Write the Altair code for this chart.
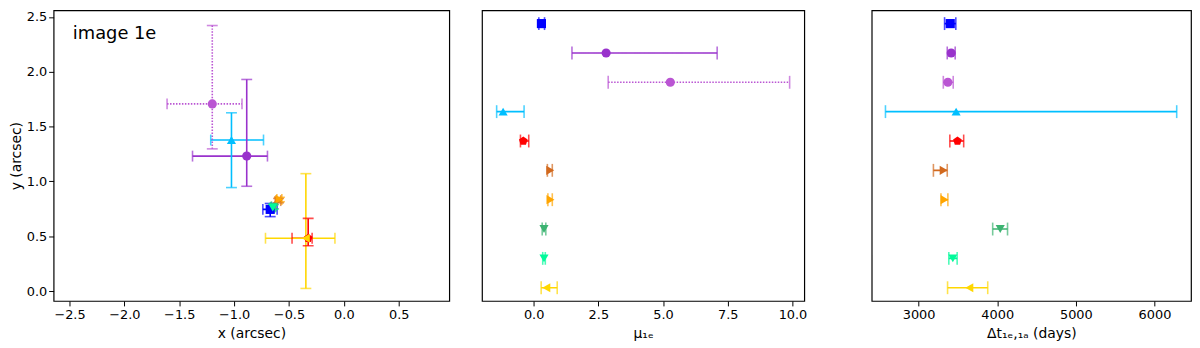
import altair as alt
import pandas as pd

# ---- data ----
names = ["blue", "purple", "orchid", "cyan", "red", "chocolate", "orange", "seagreen", "springgreen", "gold"]
colors = ["#0000ff", "#9932cc", "#ba55d3", "#00bfff", "#ff0000", "#d2691e", "#ffa500", "#3cb371", "#00fa9a", "#ffd700"]
PENT = "M0,-1L0.951,-0.309L0.588,0.809L-0.588,0.809L-0.951,-0.309Z"
shapes = ["square", "circle", "circle", "triangle-up", PENT, "triangle-right", "triangle-right",
          "triangle-down", "triangle-down", "triangle-left"]
dashes = [[1, 0], [1, 0], [1.5, 1.5], [1, 0], [1, 0], [1, 0], [1, 0], [1, 0], [1, 0], [1, 0]]
rows = [0, 1, 2, 3, 4, 5, 6, 7, 8, 9]

# panel 1: image position (arcsec)
pos_x = [-0.671, -0.885, -1.199, -1.024, -0.325, -0.595, -0.587, -0.640, -0.648, -0.346]
pos_x_lo = [-0.738, -1.379, -1.611, -1.213, -0.472, -0.615, -0.610, -0.660, -0.665, -0.714]
pos_x_hi = [-0.608, -0.696, -0.928, -0.732, -0.289, -0.575, -0.565, -0.620, -0.630, -0.081]
pos_y = [0.745, 1.231, 1.707, 1.378, 0.482, 0.825, 0.835, 0.770, 0.763, 0.482]
pos_y_lo = [0.679, 0.956, 1.297, 0.944, 0.413, 0.805, 0.815, 0.750, 0.745, 0.024]
pos_y_hi = [0.799, 1.930, 2.422, 1.626, 0.663, 0.845, 0.855, 0.790, 0.780, 1.071]

# panel 2: magnification mu_1e
mu = [0.30, 2.80, 5.28, -1.18, -0.40, 0.64, 0.65, 0.40, 0.40, 0.49]
mu_lo = [0.20, 1.48, 2.88, -1.43, -0.51, 0.53, 0.55, 0.33, 0.35, 0.29]
mu_hi = [0.42, 7.09, 9.89, -0.37, -0.19, 0.72, 0.72, 0.47, 0.45, 0.91]

# panel 3: time delay (days)
dt = [3402, 3414, 3372, 3477, 3494, 3318, 3330, 4038, 3435, 3645]
dt_lo = [3330, 3364, 3314, 2578, 3397, 3188, 3284, 3942, 3384, 3368]
dt_hi = [3473, 3465, 3440, 6283, 3573, 3364, 3372, 4131, 3490, 3879]

label_text = ["image 1e"]
label_x = [-2.47]
label_y = [2.34]

df = pd.DataFrame({
    "name": names, "row": rows,
    "x": pos_x, "xlo": pos_x_lo, "xhi": pos_x_hi,
    "y": pos_y, "ylo": pos_y_lo, "yhi": pos_y_hi,
    "mu": mu, "mulo": mu_lo, "muhi": mu_hi,
    "dt": dt, "dtlo": dt_lo, "dthi": dt_hi,
})
lab = pd.DataFrame({"t": label_text, "lx": label_x, "ly": label_y})

col = alt.Color("name:N", scale=alt.Scale(domain=names, range=colors), legend=None)
shp = alt.Shape("name:N", scale=alt.Scale(domain=names, range=shapes), legend=None)
dsh = alt.StrokeDash("name:N", scale=alt.Scale(domain=names, range=dashes), legend=None)

LW = 1.6
CAP = 11
MS = 85

# ---------- panel 1 ----------
xs1 = alt.Scale(domain=[-2.645, 0.961], nice=False, zero=False)
ys1 = alt.Scale(domain=[-0.09, 2.56], nice=False, zero=False)
xax1 = alt.Axis(values=[-2.5, -2.0, -1.5, -1.0, -0.5, 0.0, 0.5], format=".1f")
yax1 = alt.Axis(values=[0.0, 0.5, 1.0, 1.5, 2.0, 2.5], format=".1f", titlePadding=3, labelPadding=2)


def X1(f):
    return alt.X(f, scale=xs1, axis=xax1, title="x (arcsec)")


def Y1(f):
    return alt.Y(f, scale=ys1, axis=yax1, title="y (arcsec)")


b1 = alt.Chart(df)
xerr1 = b1.mark_rule(strokeWidth=LW).encode(x=X1("xlo:Q"), x2="xhi:Q", y=Y1("y:Q"), color=col, strokeDash=dsh)
yerr1 = b1.mark_rule(strokeWidth=LW).encode(x=X1("x:Q"), y=Y1("ylo:Q"), y2="yhi:Q", color=col, strokeDash=dsh)
capx1 = b1.transform_fold(["xlo", "xhi"], as_=["k", "v"]).mark_tick(
    orient="vertical", size=CAP, thickness=LW).encode(x=X1("v:Q"), y=Y1("y:Q"), color=col)
capy1 = b1.transform_fold(["ylo", "yhi"], as_=["k", "v"]).mark_tick(
    orient="horizontal", size=CAP, thickness=LW).encode(x=X1("x:Q"), y=Y1("v:Q"), color=col)
pts1 = b1.mark_point(filled=True, size=MS, opacity=1).encode(x=X1("x:Q"), y=Y1("y:Q"), color=col, shape=shp)
txt1 = alt.Chart(lab).mark_text(align="left", baseline="middle", fontSize=18, font="DejaVu Sans",
                                color="black").encode(x=X1("lx:Q"), y=Y1("ly:Q"), text="t:N")
p1 = alt.layer(xerr1, yerr1, capx1, capy1, pts1, txt1).properties(width=399, height=293)

# ---------- shared row scale ----------
rs = alt.Scale(domain=[-0.45, 9.45], nice=False, zero=False, reverse=True)


def RY(f):
    return alt.Y(f, scale=rs, axis=None)


def hpanel(v, lo, hi, xs, xax, title, w):
    def XX(f):
        return alt.X(f, scale=xs, axis=xax, title=title)
    b = alt.Chart(df)
    err = b.mark_rule(strokeWidth=LW).encode(x=XX(lo + ":Q"), x2=hi + ":Q", y=RY("row:Q"), color=col, strokeDash=dsh)
    cap = b.transform_fold([lo, hi], as_=["k", "val"]).mark_tick(
        orient="vertical", size=CAP + 2, thickness=LW).encode(x=XX("val:Q"), y=RY("row:Q"), color=col)
    pts = b.mark_point(filled=True, size=MS, opacity=1).encode(x=XX(v + ":Q"), y=RY("row:Q"), color=col, shape=shp)
    return alt.layer(err, cap, pts).properties(width=w, height=293)


xs2 = alt.Scale(domain=[-1.996, 10.456], nice=False, zero=False)
xax2 = alt.Axis(values=[0.0, 2.5, 5.0, 7.5, 10.0], format=".1f")
p2 = hpanel("mu", "mulo", "muhi", xs2, xax2, "μ₁ₑ", 325)

xs3 = alt.Scale(domain=[2403, 6465], nice=False, zero=False)
xax3 = alt.Axis(values=[3000, 4000, 5000, 6000], format="d")
p3 = hpanel("dt", "dtlo", "dthi", xs3, xax3, "Δt₁ₑ,₁ₐ (days)", 322)

inner = alt.hconcat(p1, p2, spacing=31)
chart = alt.hconcat(inner, p3, spacing=63).properties(
    padding={"left": 0, "top": 0, "right": 0, "bottom": 0}
).configure_view(stroke="black", strokeWidth=1.2).configure_axis(
    labelFont="DejaVu Sans", titleFont="DejaVu Sans", labelFontSize=13, titleFontSize=14,
    labelColor="black", titleColor="black", tickColor="black", tickSize=5, tickWidth=1,
    domain=False, grid=False, titleFontWeight="normal", labelPadding=3, titlePadding=5
)

chart.save("out.html", embed_options={"renderer": "svg", "actions": False})
